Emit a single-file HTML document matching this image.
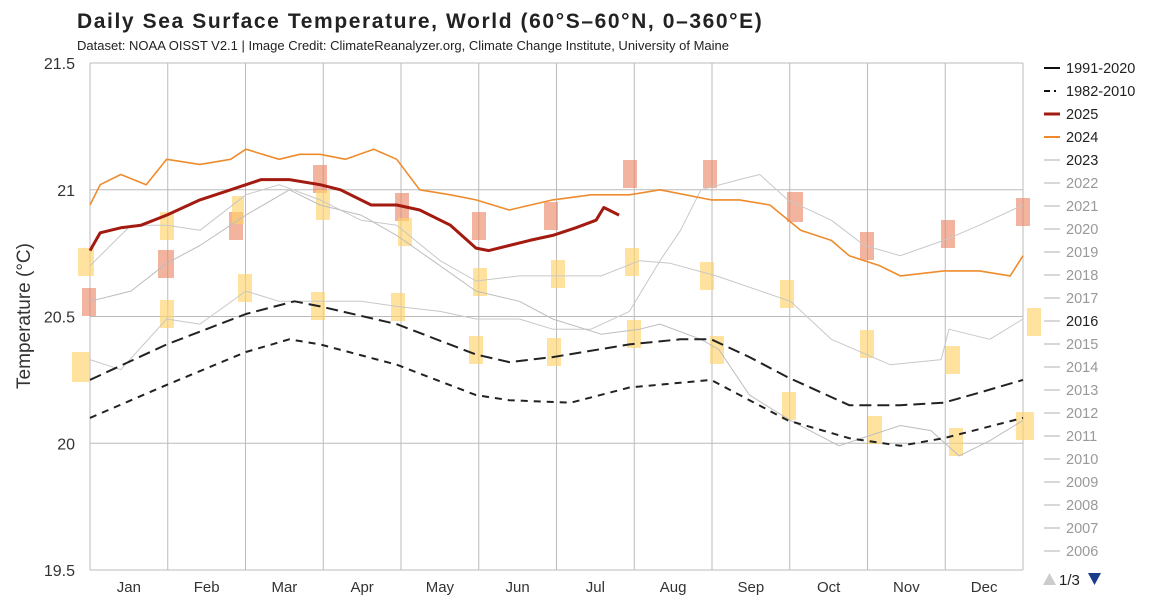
<!DOCTYPE html>
<html><head><meta charset="utf-8">
<style>
body{margin:0;background:#fff;font-family:"Liberation Sans",Arial,sans-serif;}
#wrap{position:relative;width:1150px;height:610px;overflow:hidden;}
</style></head>
<body>
<div id="wrap">
<svg id="svg" width="1150" height="610" xmlns="http://www.w3.org/2000/svg" font-family="Liberation Sans, Arial, sans-serif">
<text x="77" y="28" font-size="21" font-weight="bold" letter-spacing="1.6" fill="#222">Daily Sea Surface Temperature, World (60°S–60°N, 0–360°E)</text>
<text x="77" y="50" font-size="13" fill="#222">Dataset: NOAA OISST V2.1 | Image Credit: ClimateReanalyzer.org, Climate Change Institute, University of Maine</text>
<text transform="translate(30,316) rotate(-90)" text-anchor="middle" font-size="19" fill="#333">Temperature (°C)</text>
<g id="grid"></g>
<g id="rects"></g>
<g id="series"></g>
<g id="legend"></g>
</svg>
</div>
<script>
const months=["Jan","Feb","Mar","Apr","May","Jun","Jul","Aug","Sep","Oct","Nov","Dec"];
const yTicks=[19.5,20,20.5,21,21.5];
const yTickLabels=["19.5","20","20.5","21","21.5"];
const clim91Days=[0,30,61,80,90,120,151,164,181,211,231,243,258,273,297,317,334,348,365];
const clim91Vals=[20.25,20.39,20.51,20.56,20.54,20.47,20.35,20.32,20.34,20.39,20.41,20.41,20.34,20.26,20.15,20.15,20.16,20.20,20.25];
const clim82Days=[0,30,61,78,90,120,151,164,188,211,243,258,273,297,317,334,365];
const clim82Vals=[20.10,20.23,20.36,20.41,20.39,20.31,20.19,20.17,20.16,20.22,20.25,20.17,20.09,20.02,19.99,20.02,20.10];
const y2025Days=[0,4,12,20,30,43,55,61,67,78,90,98,110,120,129,141,151,156,164,172,181,190,198,201,207];
const y2025Vals=[20.76,20.83,20.85,20.86,20.90,20.96,21.00,21.02,21.04,21.04,21.02,21.00,20.94,20.94,20.92,20.86,20.77,20.76,20.78,20.80,20.82,20.85,20.88,20.93,20.90];
const y2024Days=[0,4,12,22,30,43,55,61,74,82,90,100,111,120,129,141,151,164,181,196,211,223,243,254,266,278,290,297,309,317,334,348,360,365];
const y2024Vals=[20.94,21.02,21.06,21.02,21.12,21.10,21.12,21.16,21.12,21.14,21.14,21.12,21.16,21.12,21.00,20.98,20.96,20.92,20.96,20.98,20.98,21.00,20.96,20.96,20.94,20.84,20.80,20.74,20.70,20.66,20.68,20.68,20.66,20.74];
const g1Days=[0,12,30,43,61,74,90,106,120,137,151,168,181,196,211,223,231,239,254,262,273,290,303,317,334,348,365];
const g1Vals=[20.33,20.29,20.49,20.47,20.60,20.56,20.56,20.56,20.54,20.52,20.49,20.49,20.45,20.45,20.52,20.72,20.84,21.00,21.04,21.06,20.96,20.88,20.78,20.74,20.80,20.86,20.94];
const g2Days=[0,16,30,43,61,74,90,106,120,137,151,168,181,200,215,227,245,274,290,313,333,336,352,365];
const g2Vals=[20.70,20.86,20.86,20.84,20.98,21.02,20.96,20.88,20.86,20.72,20.64,20.66,20.66,20.66,20.72,20.71,20.66,20.56,20.41,20.31,20.33,20.45,20.41,20.49];
const g3Days=[0,16,30,43,61,78,90,106,120,137,151,168,181,200,215,223,239,246,258,274,293,305,317,329,340,352,365];
const g3Vals=[20.56,20.60,20.71,20.78,20.90,21.00,20.94,20.90,20.82,20.70,20.60,20.56,20.49,20.43,20.45,20.47,20.41,20.37,20.19,20.09,19.99,20.03,20.07,20.05,19.95,20.01,20.09];
const legendLabels=["1991-2020","1982-2010","2025","2024","2023","2022","2021","2020","2019","2018","2017","2016","2015","2014","2013","2012","2011","2010","2009","2008","2007","2006"];

const NS="http://www.w3.org/2000/svg";
const L=90,R=1023,T=63,B=570;
const xS=d=>L+d*(R-L)/365;
const xM=m=>L+m*(R-L)/12;
const yS=v=>B-(v-19.5)*(B-T)/2;
function mk(tag,attrs,parent){const e=document.createElementNS(NS,tag);for(const k in attrs)e.setAttribute(k,attrs[k]);parent.appendChild(e);return e;}
const grid=document.getElementById('grid');
yTicks.forEach((v,i)=>{
  const ln=mk('line',{x1:L,x2:R,y1:yS(v),y2:yS(v),stroke:'#bbb','stroke-width':1},grid);
  
  
  const t=mk('text',{x:75,y:yS(v)+6,'text-anchor':'end','font-size':16,fill:'#333'},grid);
  t.textContent=yTickLabels[i];
  
  
});
for(let i=0;i<=12;i++){
  const ln=mk('line',{x1:xM(i),x2:xM(i),y1:T,y2:B,stroke:'#bbb','stroke-width':1},grid);
  
  
  if(i<12){
    const t=mk('text',{x:(xM(i)+xM(i+1))/2,y:592,'text-anchor':'middle','font-size':15,fill:'#333'},grid);
    t.textContent=months[i];
    
    
  }
}
const rects=document.getElementById('rects');
const salmon=[[82,288,14,28],[158,250,16,28],[229,212,14,28],[313,165,14,28],[395,193,14,28],[472,212,14,28],[544,202,14,28],[623,160,14,28],[703,160,14,28],[787,192,16,30],[860,232,14,28],[941,220,14,28],[1016,198,14,28]];
const yellow=[[78,248,16,28],[160,212,14,28],[232,196,12,28],[238,274,14,28],[160,300,14,28],[316,190,14,30],[311,292,14,28],[398,218,14,28],[391,293,14,28],[473,268,14,28],[469,336,14,28],[547,338,14,28],[551,260,14,28],[625,248,14,28],[627,320,14,28],[700,262,14,28],[710,336,14,28],[780,280,14,28],[782,392,14,28],[860,330,14,28],[868,416,14,28],[946,346,14,28],[949,428,14,28],[1027,308,14,28],[1016,412,18,28],[72,352,18,30]];
salmon.forEach(r=>{const e=mk('rect',{x:r[0],y:r[1],width:r[2],height:r[3],fill:'#e9805f','fill-opacity':0.6},rects);
  
  });
yellow.forEach(r=>{const e=mk('rect',{x:r[0],y:r[1],width:r[2],height:r[3],fill:'#fdd36a','fill-opacity':0.65},rects);
  
  });
const ser=document.getElementById('series');
function line(days,vals,st,name){
  const d=days.map((x,i)=>(i?'L':'M')+xS(x).toFixed(1)+','+yS(vals[i]).toFixed(1)).join('');
  const p=mk('path',Object.assign({d:d,fill:'none','stroke-linejoin':'round'},st),ser);
  
  
}
line(g1Days,g1Vals,{stroke:'#c8c8c8','stroke-width':1},'line-2023');
line(g2Days,g2Vals,{stroke:'#c8c8c8','stroke-width':1},'line-gray-year');
line(g3Days,g3Vals,{stroke:'#bdbdbd','stroke-width':1},'line-2016');
line(clim82Days,clim82Vals,{stroke:'#222','stroke-width':2,'stroke-dasharray':'7,6'},'line-1982-2010');
line(clim91Days,clim91Vals,{stroke:'#222','stroke-width':2,'stroke-dasharray':'12,6'},'line-1991-2020');
line(y2024Days,y2024Vals,{stroke:'#ee8c2d','stroke-width':1.6},'line-2024');
line(y2025Days,y2025Vals,{stroke:'#a31a10','stroke-width':3},'line-2025');
const lg=document.getElementById('legend');
legendLabels.forEach((lab,i)=>{
  const y=68+i*23;
  let st={stroke:'#d8d8d8','stroke-width':2};
  if(i==0)st={stroke:'#111','stroke-width':2};
  if(i==1)st={stroke:'#111','stroke-width':2,'stroke-dasharray':'6,4,2,4'};
  if(i==2)st={stroke:'#a31a10','stroke-width':3};
  if(i==3)st={stroke:'#ee8c2d','stroke-width':2};
  const l=mk('line',Object.assign({x1:1044,x2:1060,y1:y,y2:y},st),lg);
  
  
  const dark=i<5||lab=="2016";
  const t=mk('text',{x:1066,y:y+5,'font-size':14.5,fill:dark?'#222':'#999'},lg);
  t.textContent=lab;
  
  
});
const up=mk('path',{d:'M1043,585 L1056,585 L1049.5,573 Z',fill:'#ccc'},lg);


const pg=mk('text',{x:1059,y:585,'font-size':15,fill:'#222'},lg);
pg.textContent='1/3';


const dn=mk('path',{d:'M1088,573 L1101,573 L1094.5,585 Z',fill:'#1a3a8c'},lg);


</script>
</body></html>
